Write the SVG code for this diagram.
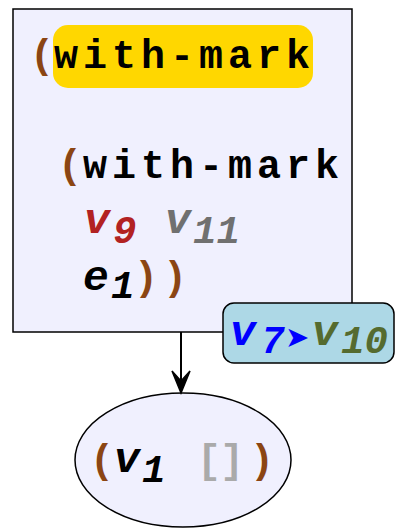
<svg xmlns="http://www.w3.org/2000/svg" width="395" height="528" viewBox="0 0 395 528">
  <style>
    .mono { font-family: "Liberation Mono", "Courier New", monospace; font-weight: bold; font-size: 40px; }
    .it { font-style: italic; font-size: 43px; }
    .sub { font-family: "Liberation Mono", "Courier New", monospace; font-style: italic; font-weight: bold; font-size: 39px; }
    .paren { fill: #8b4513; }
    .node { fill: #f0f0fe; stroke: #000; stroke-width: 1.5; }
  </style>

  <!-- outer with-mark expression -->
  <g id="node-with-mark">
    <rect class="node" x="13" y="9" width="339" height="323"/>
    <rect x="53" y="25" width="260" height="63" rx="15" fill="#ffd700"/>
    <text class="mono paren" x="30" y="68">(</text>
    <text class="mono" x="54" y="68" textLength="256" lengthAdjust="spacing" fill="#000">with-mark</text>
    <text class="mono paren" x="58" y="178">(</text>
    <text class="mono" x="83" y="178" textLength="256" lengthAdjust="spacing" fill="#000">with-mark</text>
    <text class="mono it" x="84" y="233" fill="#b22222">v</text>
    <text class="sub" x="113" y="243" fill="#b22222">9</text>
    <text class="mono it" x="165" y="233" fill="#707070">v</text>
    <text class="sub" x="193" y="243" fill="#707070">11</text>
    <text class="mono it" x="83" y="290" fill="#000">e</text>
    <text class="sub" x="111" y="298" fill="#000">1</text>
    <text class="mono paren" x="134 163" y="290">))</text>
  </g>

  <!-- inner value -->
  <g id="node-v1">
    <ellipse class="node" cx="183" cy="460" rx="108" ry="67"/>
    <text class="mono paren" x="90" y="473">(</text>
    <text class="mono it" x="114" y="472" fill="#000">v</text>
    <text class="sub" x="142" y="482" fill="#000">1</text>
    <text class="mono" x="197 220" y="473" fill="#aaaaaa">[]</text>
    <text class="mono paren" x="250" y="473">)</text>
  </g>

  <!-- connectors -->
  <g id="edges">
    <line x1="181" y1="332" x2="181" y2="384" stroke="#000" stroke-width="2"/>
    <path d="M181,393 L172,371 L181,381 L190,371 Z" fill="#000" stroke="#000" stroke-width="1.5"/>
  </g>

  <!-- edge label -->
  <g id="label-v7-v10">
    <rect x="223" y="303" width="171" height="60" rx="11" fill="#add8e6" stroke="#000" stroke-width="1.5"/>
    <text class="mono it" x="230" y="345" fill="#0000ff">v</text>
    <text class="sub" x="261" y="353" fill="#0000ff">7</text>
    <text x="285" y="347" font-family="DejaVu Sans, sans-serif" font-size="29" fill="#0000ff">➤</text>
    <text class="mono it" x="312" y="345" fill="#556b2f">v</text>
    <text class="sub" x="341" y="353" fill="#556b2f">10</text>
  </g>
</svg>
